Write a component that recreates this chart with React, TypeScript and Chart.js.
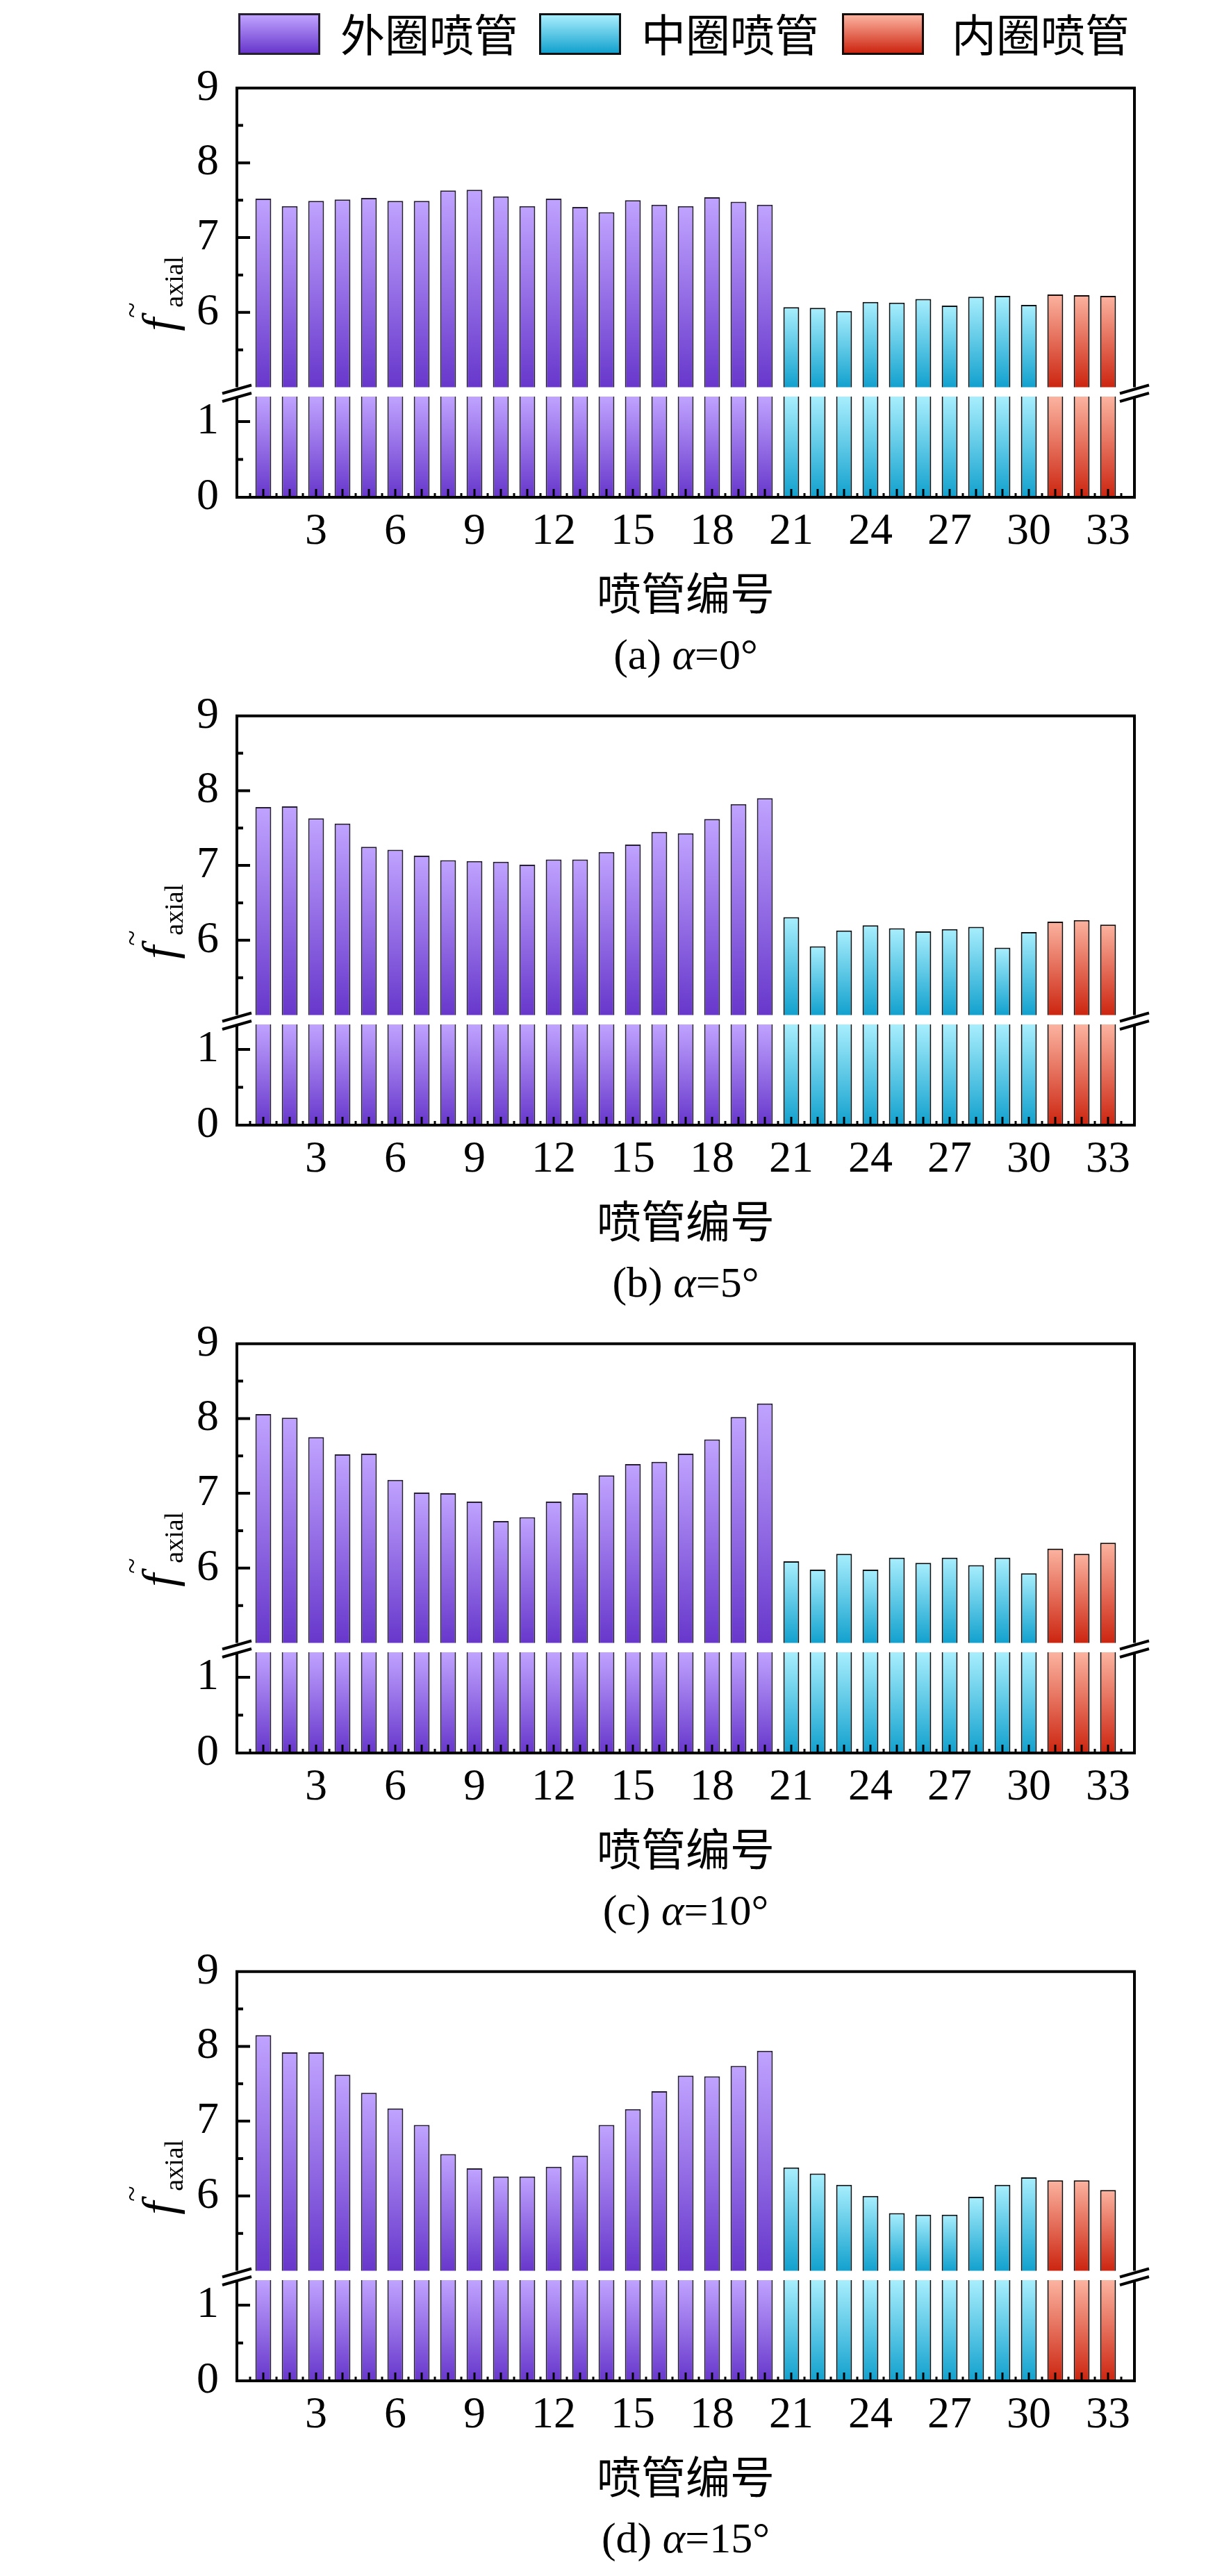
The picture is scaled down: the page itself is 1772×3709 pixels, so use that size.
import React, { useEffect, useRef } from 'react';
import { Chart, registerables } from 'chart.js';

Chart.register(...registerables);

// nozzle numbers and ring grouping
const nozzleIds = [
  1, 2, 3, 4, 5, 6, 7, 8, 9, 10, 11, 12, 13, 14, 15, 16, 17, 18, 19, 20,
  21, 22, 23, 24, 25, 26, 27, 28, 29, 30, 31, 32, 33,
];
const ringNames = ['外圈喷管', '中圈喷管', '内圈喷管'];
const ringSizes = [20, 10, 3];

// f~axial per nozzle, one array per inclination angle
const alpha0 = [
  7.52, 7.42, 7.49, 7.51, 7.53, 7.49, 7.49, 7.63, 7.64, 7.55,
  7.42, 7.52, 7.41, 7.34, 7.5, 7.44, 7.42, 7.54, 7.48, 7.44,
  6.07, 6.06, 6.02, 6.14, 6.13, 6.18, 6.09, 6.21, 6.22, 6.1,
  6.24, 6.23, 6.22,
];
const alpha5 = [
  7.78, 7.79, 7.63, 7.56, 7.25, 7.21, 7.13, 7.07, 7.06, 7.05,
  7.01, 7.08, 7.08, 7.18, 7.28, 7.45, 7.43, 7.62, 7.82, 7.9,
  6.31, 5.92, 6.13, 6.2, 6.16, 6.12, 6.15, 6.18, 5.9, 6.11,
  6.25, 6.27, 6.21,
];
const alpha10 = [
  8.06, 8.01, 7.75, 7.52, 7.53, 7.18, 7.01, 7.0, 6.89, 6.63,
  6.68, 6.89, 7.0, 7.24, 7.39, 7.42, 7.53, 7.72, 8.02, 8.2,
  6.09, 5.98, 6.19, 5.98, 6.14, 6.07, 6.14, 6.04, 6.14, 5.93,
  6.26, 6.19, 6.34,
];
const alpha15 = [
  8.15, 7.92, 7.92, 7.62, 7.38, 7.17, 6.95, 6.56, 6.37, 6.26,
  6.26, 6.39, 6.54, 6.95, 7.16, 7.4, 7.61, 7.6, 7.74, 7.94,
  6.38, 6.3, 6.15, 6.0, 5.77, 5.75, 5.75, 5.99, 6.15, 6.25,
  6.21, 6.21, 6.08,
];
const panelSeries = [alpha0, alpha5, alpha10, alpha15];
const panelTags = ['(a)', '(b)', '(c)', '(d)'];
const panelAngles = [0, 5, 10, 15];

// broken y axis: upper and lower parts
const upperRange = [5, 9];
const lowerRange = [0, 1.33];
const upperTicks = [6, 7, 8, 9];
const lowerTicks = [0, 1];
const xRange = [0, 34];
const xTicks = [3, 6, 9, 12, 15, 18, 21, 24, 27, 30, 33];

const ringTop = ['#c0a3ff', '#a8eefd', '#fbb3a0'];
const ringBottom = ['#6737cb', '#12a1ce', '#cc2510'];
const ringEdge = ['#261f35', '#0d1214', '#150b08'];

const SERIF = '"Liberation Serif", "Times New Roman", serif';
const CJK = '"Noto Sans CJK SC", sans-serif';
const PANEL_STEP = 904;
// canvases: plot area of the upper part is y 126.7..557.5, lower part 571..716
const UPPER_TOP = 60;
const UPPER_H = 564;
const LOWER_TOP = 500;
const LOWER_H = 330;

const gradientFill = (ring: number) => (c: any) => {
  const chart = c.chart;
  const area = chart.chartArea;
  const ys = chart.scales?.y;
  if (!area || !ys || !c.parsed) return ringTop[ring];
  const top = ys.getPixelForValue(Math.min(c.parsed.y, ys.max));
  const g = chart.ctx.createLinearGradient(0, top, 0, area.bottom);
  g.addColorStop(0, ringTop[ring]);
  g.addColorStop(1, ringBottom[ring]);
  return g;
};

function drawAxisTitle(ctx: CanvasRenderingContext2D, x: number, y: number) {
  ctx.save();
  ctx.translate(x, y);
  ctx.rotate(-Math.PI / 2);
  ctx.fillStyle = '#000';
  ctx.textAlign = 'left';
  ctx.textBaseline = 'alphabetic';
  ctx.font = `italic 68px ${SERIF}`;
  ctx.fillText('f', 0, 0);
  ctx.font = `38px ${SERIF}`;
  ctx.fillText('axial', 34, 11);
  ctx.font = `42px ${SERIF}`;
  ctx.textAlign = 'center';
  ctx.textBaseline = 'middle';
  ctx.fillText('~', 30, -60);
  ctx.restore();
}

const framePlugin = {
  id: 'frame',
  afterDatasetsDraw(chart: any, _args: unknown, opts: any) {
    const { ctx, chartArea: a } = chart;
    const ys = chart.scales.y;
    ctx.save();
    ctx.strokeStyle = '#000';
    ctx.lineCap = 'butt';

    // box lines
    ctx.lineWidth = 4;
    ctx.beginPath();
    const t = opts.top ? a.top - 2 : a.top;
    const b = opts.bottom ? a.bottom + 2 : a.bottom;
    ctx.moveTo(a.left, t);
    ctx.lineTo(a.left, b);
    ctx.moveTo(a.right, t);
    ctx.lineTo(a.right, b);
    if (opts.top) {
      ctx.moveTo(a.left - 2, a.top);
      ctx.lineTo(a.right + 2, a.top);
    }
    if (opts.bottom) {
      ctx.moveTo(a.left - 2, a.bottom);
      ctx.lineTo(a.right + 2, a.bottom);
    }
    ctx.stroke();

    // inward y ticks, major every 1, minor every 0.5
    ctx.beginPath();
    for (let k = Math.ceil(ys.min * 2); k <= Math.floor(ys.max * 2); k++) {
      const py = ys.getPixelForValue(k / 2);
      if (py < a.top + 3 || py > a.bottom - 3) continue;
      const len = k % 2 === 0 ? 19 : 9;
      ctx.moveTo(a.left, py);
      ctx.lineTo(a.left + len, py);
    }
    ctx.stroke();

    // inward x ticks at each nozzle, minor between
    if (opts.bottom) {
      const xs = chart.scales.x;
      ctx.lineWidth = 3;
      ctx.beginPath();
      for (let k = 1; k < xRange[1] * 2; k++) {
        const px = xs.getPixelForValue(k / 2);
        const len = k % 2 === 0 ? 12 : 6;
        ctx.moveTo(px, a.bottom);
        ctx.lineTo(px, a.bottom - len);
      }
      ctx.stroke();
    }

    // axis break marks
    if (opts.breakMarks) {
      ctx.lineWidth = 4;
      ctx.beginPath();
      [a.left, a.right].forEach((X: number) => {
        [a.bottom + 3, a.bottom + 14.5].forEach((Y: number) => {
          ctx.moveTo(X - 21, Y + 6);
          ctx.lineTo(X + 21, Y - 6);
        });
      });
      ctx.stroke();
    }

    if (opts.axisTitle) drawAxisTitle(ctx, 252, a.top + 350);
    ctx.restore();
  },
};

function buildConfig(values: number[], part: 'upper' | 'lower'): any {
  let start = 0;
  const datasets = ringSizes.map((size, r) => {
    const ids = nozzleIds.slice(start, start + size);
    const data = ids.map((id, i) => ({ x: id, y: values[start + i] }));
    start += size;
    return {
      label: ringNames[r],
      data,
      backgroundColor: gradientFill(r),
      borderColor: ringEdge[r],
      borderWidth: 2,
      borderSkipped: 'start',
      grouped: false,
      barPercentage: 0.6,
      categoryPercentage: 1,
      clip: 0,
    };
  });

  const upper = part === 'upper';
  const yRange = upper ? upperRange : lowerRange;
  const yLabels = upper ? upperTicks : lowerTicks;

  return {
    type: 'bar',
    data: { datasets },
    plugins: [framePlugin],
    options: {
      responsive: false,
      animation: false,
      layout: {
        padding: upper
          ? { top: 66.7, bottom: 66.5, left: 0, right: 139 }
          : { top: 71, bottom: 0, left: 0, right: 139 },
      },
      plugins: {
        legend: { display: false },
        tooltip: { enabled: false },
        frame: { top: upper, bottom: !upper, breakMarks: upper, axisTitle: upper },
      },
      scales: {
        x: {
          type: 'linear',
          min: xRange[0],
          max: xRange[1],
          offset: false,
          display: !upper,
          grid: { display: false, drawTicks: false, offset: false },
          border: { display: false },
          ticks: {
            stepSize: 3,
            includeBounds: false,
            maxRotation: 0,
            autoSkip: false,
            padding: 12,
            color: '#000',
            font: { family: SERIF, size: 64 },
            callback: (v: number) => (xTicks.includes(v) ? String(v) : ''),
          },
          afterFit: (s: any) => {
            if (!upper) s.height = 114;
          },
        },
        y: {
          min: yRange[0],
          max: yRange[1],
          grid: { display: false, drawTicks: false },
          border: { display: false },
          ticks: {
            stepSize: 1,
            includeBounds: false,
            padding: 26,
            color: '#000',
            font: { family: SERIF, size: 64 },
            callback: (v: number) => (yLabels.includes(v) ? String(v) : ''),
          },
          afterFit: (s: any) => {
            s.width = 341;
          },
        },
      },
    },
  };
}

function SegmentChart({ values, part, top }: { values: number[]; part: 'upper' | 'lower'; top: number }) {
  const ref = useRef<HTMLCanvasElement>(null);
  const h = part === 'upper' ? UPPER_H : LOWER_H;

  useEffect(() => {
    if (!ref.current) return;
    const chart = new Chart(ref.current, buildConfig(values, part));
    return () => chart.destroy();
  }, [values, part]);

  return (
    <canvas
      ref={ref}
      width={1772}
      height={h}
      style={{ position: 'absolute', left: 0, top, width: 1772, height: h }}
    />
  );
}

const legendLeft = [343, 776, 1212];
const legendTextLeft = [490, 923, 1370];

export default function App() {
  return (
    <div
      style={{
        position: 'absolute',
        left: 0,
        top: 0,
        width: 1772,
        height: 3709,
        background: '#fff',
        overflow: 'hidden',
      }}
    >
      {ringNames.map((name, r) => (
        <React.Fragment key={name}>
          <div
            style={{
              position: 'absolute',
              left: legendLeft[r],
              top: 19,
              width: 118,
              height: 60,
              boxSizing: 'border-box',
              border: `3px solid ${ringEdge[r]}`,
              background: `linear-gradient(to bottom, ${ringTop[r]}, ${ringBottom[r]})`,
            }}
          />
          <div
            style={{
              position: 'absolute',
              left: legendTextLeft[r],
              top: 14,
              fontFamily: CJK,
              fontSize: 64,
              lineHeight: '64px',
              whiteSpace: 'nowrap',
              color: '#000',
            }}
          >
            {name}
          </div>
        </React.Fragment>
      ))}

      {panelSeries.map((values, p) => {
        const dy = p * PANEL_STEP;
        return (
          <React.Fragment key={p}>
            <SegmentChart values={values} part="upper" top={UPPER_TOP + dy} />
            <SegmentChart values={values} part="lower" top={LOWER_TOP + dy} />
            <div
              style={{
                position: 'absolute',
                left: 487,
                width: 1000,
                top: 818 + dy,
                textAlign: 'center',
                fontFamily: CJK,
                fontSize: 64,
                lineHeight: '64px',
                color: '#000',
              }}
            >
              喷管编号
            </div>
            <div
              style={{
                position: 'absolute',
                left: 487,
                width: 1000,
                top: 911 + dy,
                textAlign: 'center',
                fontFamily: SERIF,
                fontSize: 62,
                lineHeight: '62px',
                color: '#000',
                whiteSpace: 'nowrap',
              }}
            >
              {panelTags[p]} <i>α</i>={panelAngles[p]}°
            </div>
          </React.Fragment>
        );
      })}
    </div>
  );
}
